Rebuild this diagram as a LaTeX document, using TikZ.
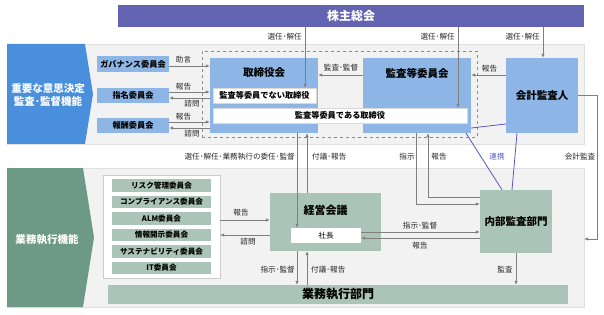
\documentclass[tikz,border=0pt]{standalone}
\usepackage{fontspec}
\setmainfont{Noto Sans CJK JP}
\usetikzlibrary{arrows.meta}

\definecolor{gmpurple}{HTML}{6264B1}
\definecolor{chevblue}{HTML}{4A8FDC}
\definecolor{boxblue}{HTML}{8DB6E6}
\definecolor{chevgreen}{HTML}{6D9A86}
\definecolor{boxgreen}{HTML}{AAC4B9}
\definecolor{bandgray}{HTML}{F2F2F2}
\definecolor{linkblue}{HTML}{5559C4}
\definecolor{arrowgray}{HTML}{7F7F7F}

\tikzset{
  band/.style={fill=bandgray, draw=black!12, inner sep=0pt},
  chevtext/.style={text=white, align=center, inner sep=0pt, font=\bfseries\fontsize{10.5}{13}\selectfont},
  bluebox/.style={fill=boxblue, inner sep=0pt, font=\bfseries\fontsize{8.2}{9}\selectfont},
  greenbox/.style={fill=boxgreen, inner sep=0pt, font=\bfseries\fontsize{7.6}{9}\selectfont},
  whitebox/.style={fill=white, draw=black!15, inner sep=0pt, font=\bfseries\fontsize{8.2}{9}\selectfont},
  boxtitle/.style={inner sep=0pt, font=\bfseries\fontsize{10.5}{12}\selectfont},
  lbl/.style={inner sep=0pt, text=black!85, font=\fontsize{7.6}{8}\selectfont},
  conn/.style={draw=arrowgray, line width=0.7pt, ->},
  link/.style={draw=linkblue, line width=0.8pt},
}

\begin{document}
\begin{tikzpicture}[x=1pt, y=-1pt, >={Latex[length=4pt,width=3.5pt]}]
    \useasboundingbox (0,0) rectangle (604,315);

    % bands and function arrows
    \node[band, minimum width=577pt, minimum height=100pt] (topBand) at (295.5,94) {};
    \node[band, minimum width=577pt, minimum height=139pt] (lowBand) at (295.5,237.5) {};
    \fill[chevblue] (7,44) -- (85,44) -- (93,94) -- (85,144) -- (7,144) -- cycle;
    \fill[chevgreen] (7,168) -- (83,168) -- (94,237.5) -- (83,307) -- (7,307) -- cycle;
    \node[chevtext] (decFunc) at (48,95.5) {重要な意思決定\\監査･監督機能};
    \node[chevtext] (execFunc) at (47,240) {業務執行機能};

    \node[fill=gmpurple, text=white, inner sep=0pt, minimum width=466pt, minimum height=22pt,
          font=\bfseries\fontsize{12}{14}\selectfont] (gm) at (351,16) {株主総会};

    % supervision side
    \node[draw=black!45, dashed, inner sep=0pt, minimum width=275pt, minimum height=86pt] (auditFrame) at (339.5,94) {};
    \node[bluebox, minimum width=72pt, minimum height=16pt] (gov) at (133,64.5) {ガバナンス委員会};
    \node[bluebox, minimum width=72pt, minimum height=15pt] (nom) at (133,95.5) {指名委員会};
    \node[bluebox, minimum width=72pt, minimum height=15pt] (rem) at (133,125.5) {報酬委員会};
    \node[bluebox, minimum width=108pt, minimum height=75pt] (board) at (264,95.5) {};
    \node[boxtitle] (boardTitle) at (264,73) {取締役会};
    \node[bluebox, minimum width=108pt, minimum height=75pt] (audcom) at (417,95.5) {};
    \node[boxtitle] (audcomTitle) at (417,73) {監査等委員会};
    \node[whitebox, minimum width=103pt, minimum height=15pt] (nonaud) at (264.5,95.5) {監査等委員でない取締役};
    \node[whitebox, minimum width=254pt, minimum height=15pt] (audDir) at (340,115.5) {監査等委員である取締役};
    \node[bluebox, font=\bfseries\fontsize{10.5}{12}\selectfont, minimum width=72pt, minimum height=75pt] (acct) at (542,95.5) {会計監査人};

    % execution side
    \node[fill=white, draw=black!20, inner sep=0pt, minimum width=117pt, minimum height=103pt] (comWrap) at (161.5,226.5) {};
    \node[greenbox, minimum width=99pt, minimum height=12.5pt] (risk) at (161.5,185.5) {リスク管理委員会};
    \node[greenbox, minimum width=99pt, minimum height=12.5pt] (comp) at (161.5,202) {コンプライアンス委員会};
    \node[greenbox, minimum width=99pt, minimum height=12.5pt] (alm) at (161.5,218.5) {ALM委員会};
    \node[greenbox, minimum width=99pt, minimum height=12.5pt] (disc) at (161.5,235) {情報開示委員会};
    \node[greenbox, minimum width=99pt, minimum height=12.5pt] (sust) at (161.5,251.5) {サステナビリティ委員会};
    \node[greenbox, minimum width=99pt, minimum height=12.5pt] (itc) at (161.5,268) {IT委員会};
    \node[greenbox, minimum width=111pt, minimum height=58pt] (mgmt) at (325.5,222) {};
    \node[boxtitle, font=\bfseries\fontsize{11}{12}\selectfont] (mgmtTitle) at (325.5,210) {経営会議};
    \node[fill=white, inner sep=0pt, minimum width=70pt, minimum height=15pt, font=\fontsize{7.6}{9}\selectfont] (pres) at (326,235.5) {社長};
    \node[greenbox, font=\bfseries\fontsize{10.5}{12}\selectfont, minimum width=72pt, minimum height=63pt] (iaud) at (516,221.5) {内部監査部門};
    \node[greenbox, font=\bfseries\fontsize{12}{14}\selectfont, minimum width=460pt, minimum height=19pt] (ops) at (338,294.5) {業務執行部門};

    % shareholders' meeting
    \draw[conn] (gm.south -| 305,0) -- (nonaud.north -| 305,0);
    \draw[conn] (gm.south -| 458,0) -- (audDir.north -| 458,0);
    \draw[conn] (gm.south -| 543,0) -- (acct.north -| 543,0);
    \node[lbl, anchor=east] (selA) at (302,37) {選任･解任};
    \node[lbl, anchor=east] (selB) at (455,37) {選任･解任};
    \node[lbl, anchor=east] (selC) at (540,37) {選任･解任};

    % committees and board
    \draw[conn] (gov.east |- 0,66) -- (board.west |- 0,66);
    \draw[conn] (nom.east |- 0,92) -- (board.west |- 0,92);
    \draw[conn] (board.west |- 0,98) -- (nom.east |- 0,98);
    \draw[conn] (rem.east |- 0,122) -- (board.west |- 0,122);
    \draw[conn] (board.west |- 0,128) -- (rem.east |- 0,128);
    \node[lbl] (advice) at (183.5,60) {助言};
    \node[lbl] (nomRep) at (183.5,86.5) {報告};
    \node[lbl] (nomAsk) at (192,104) {諮問};
    \node[lbl] (remRep) at (183.5,116.5) {報告};
    \node[lbl] (remAsk) at (192,134) {諮問};
    \draw[conn] (audcom.west |- 0,75) -- (board.east |- 0,75);
    \draw[conn] (acct.west |- 0,75) -- (audcom.east |- 0,75);
    \node[lbl] (audSup) at (341,68) {監査･監督};
    \node[lbl] (acctRep) at (489.5,69) {報告};

    % links
    \draw[link] (audcom.east |- 0,128) -- (acct.west |- 0,124);
    \draw[link] (audcom.south -| 466,0) -- (iaud.north -| 502,0);
    \draw[link] (acct.south -| 517,0) -- (iaud.north -| 512,0);
    \node[lbl, text=linkblue] (coop) at (497,157) {連携};

    % between board and execution
    \draw[conn] (board.south -| 297,0) -- (pres.north -| 297,0);
    \draw[conn] (mgmt.north -| 307,0) -- (board.south -| 307,0);
    \node[lbl, anchor=east] (delegate) at (295,157) {選任･解任･業務執行の委任･監督};
    \node[lbl, anchor=west] (refUp) at (312,157) {付議･報告};
    \draw[conn] (audcom.south -| 416,0) |- (iaud.west |- 0,204);
    \draw[conn] (iaud.west |- 0,197) -| (audcom.south -| 428,0);
    \node[lbl] (instr) at (407,157) {指示};
    \node[lbl] (iaudRep) at (439,157) {報告};
    \draw[conn] (acct.east) -- ++(19,0) |- (lowBand.east |- 0,239);
    \node[lbl] (acctAud) at (580,157) {会計監査};

    % execution arrows
    \draw[conn] (comWrap.east |- 0,220) -- (mgmt.west |- 0,220);
    \draw[conn] (mgmt.west |- 0,235) -- (comWrap.east |- 0,235);
    \node[lbl] (comRep) at (241,213) {報告};
    \node[lbl] (comAsk) at (248,241.5) {諮問};
    \draw[conn] (pres.east |- 0,232) -- (iaud.west |- 0,232);
    \draw[conn] (iaud.west |- 0,238) -- (pres.east |- 0,238);
    \node[lbl] (presSup) at (420,226) {指示･監督};
    \node[lbl] (presRep) at (420,245.5) {報告};
    \draw[conn] (mgmt.south -| 297,0) -- (ops.north -| 297,0);
    \draw[conn] (ops.north -| 307,0) -- (mgmt.south -| 307,0);
    \node[lbl, anchor=east] (mgmtSup) at (295,270) {指示･監督};
    \node[lbl, anchor=west] (opsRep) at (311,270) {付議･報告};
    \draw[conn] (iaud.south) -- (ops.north -| iaud.south);
    \node[lbl] (audit) at (505,270) {監査};
\end{tikzpicture}
\end{document}
